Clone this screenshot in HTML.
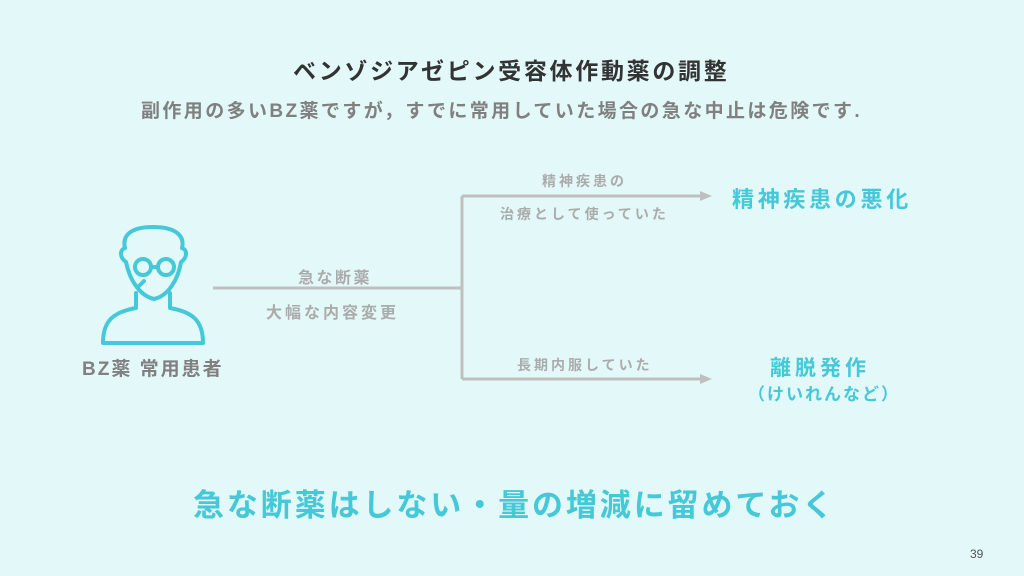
<!DOCTYPE html>
<html><head><meta charset="utf-8"><style>
html,body{margin:0;padding:0}
body{width:1024px;height:576px;background:#e3f8f8;position:relative;overflow:hidden;font-family:"Liberation Sans","Noto Sans CJK JP",sans-serif}
.t{position:absolute;white-space:nowrap;font-weight:bold}
</style></head><body>
<div class="t" style="left:293px;top:52px;font-size:23px;color:#333;letter-spacing:2.7px">ベンゾジアゼピン受容体作動薬の調整</div>
<div class="t" style="left:141px;top:96px;font-size:19px;color:#808080;letter-spacing:2.4px">副作用の多いBZ薬ですが，すでに常用していた場合の急な中止は危険です.</div>

<svg style="position:absolute;left:0;top:0" width="1024" height="576">
<g fill="none" stroke="#bfbfbf" stroke-width="3">
<path d="M213 288 H462 M462 196 V379 M462 196 H702 M462 379 H702"/>
</g>
<path d="M700 191 L712 196 L700 201Z M700 374 L712 379 L700 384Z" fill="#bfbfbf"/>
<g fill="none" stroke="#45c8d8" stroke-width="4" stroke-linecap="round" stroke-linejoin="round">
<path d="M126 262 C120 258 119 250 125 248 C122 236 130 227 153 227 C176 227 185 236 182 248 C188 250 187 258 181 262 C178 280 168 296 154 299 C141 296 130 282 126 262Z"/>
<path d="M136 293 L136 308 C114 312 103 320 103 343 L203 343 C203 320 192 312 170 308 L170 293"/>
<circle cx="143" cy="267" r="8"/><circle cx="166" cy="267" r="8"/>
<path d="M151 267 H158 M138 287 L144 281"/>
</g>
</svg>
<div class="t" style="left:82px;top:354px;font-size:19px;color:#808080;letter-spacing:2px">BZ薬 常用患者</div>
<div class="t" style="left:298px;top:264px;font-size:16px;color:#ababab;letter-spacing:2.5px">急な断薬</div>
<div class="t" style="left:266px;top:299px;font-size:16px;color:#ababab;letter-spacing:3px">大幅な内容変更</div>
<div class="t" style="left:542px;top:171px;font-size:14px;color:#ababab;letter-spacing:3px">精神疾患の</div>
<div class="t" style="left:500px;top:204px;font-size:14px;color:#ababab;letter-spacing:3px">治療として使っていた</div>
<div class="t" style="left:517px;top:355px;font-size:14px;color:#ababab;letter-spacing:3px">長期内服していた</div>
<div class="t" style="left:732px;top:182px;font-size:22px;color:#45c8d8;letter-spacing:3.7px">精神疾患の悪化</div>
<div class="t" style="left:770px;top:352px;font-size:21px;color:#45c8d8;letter-spacing:4px">離脱発作</div>
<div class="t" style="left:748px;top:380px;font-size:17px;color:#45c8d8;letter-spacing:2px">（けいれんなど）</div>
<div class="t" style="left:193px;top:480px;font-size:31px;color:#45c8d8;letter-spacing:2.9px">急な断薬はしない・量の増減に留めておく</div>
<div class="t" style="left:970px;top:547px;font-size:12px;color:#555;font-weight:normal">39</div>
</body></html>
